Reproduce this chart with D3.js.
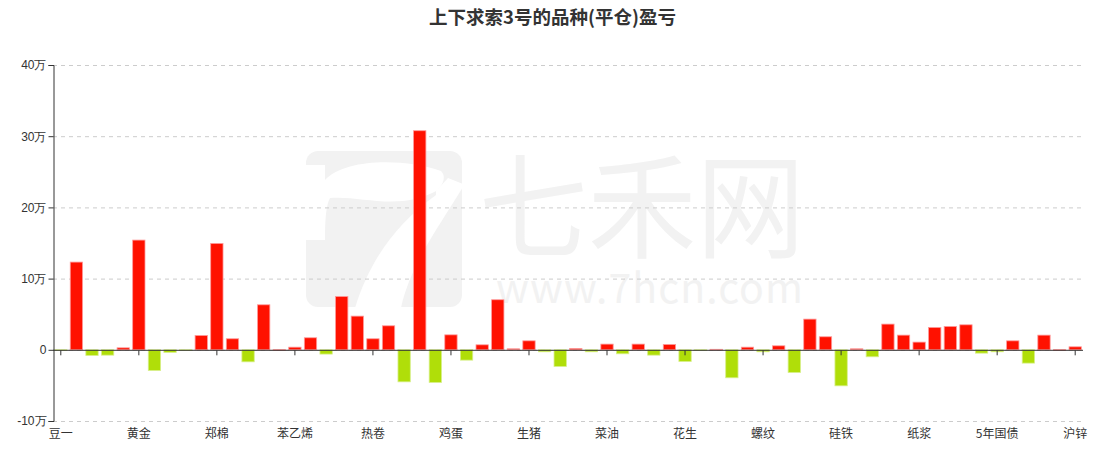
<!DOCTYPE html>
<html><head><meta charset="utf-8">
<script src="https://cdn.jsdelivr.net/npm/d3@7"></script>
<style>body{margin:0;background:#fff}svg{display:block;font-family:"Noto Sans CJK SC","Noto Sans",sans-serif}</style>
</head><body><svg id="c" width="1103" height="452"></svg>
<script>
const title = "上下求索3号的品种(平仓)盈亏";
const categories = ["豆一","沪铜","豆粕","玉米","白银","黄金","棕榈油","郑糖","苹果","PTA",
"郑棉","甲醇","沥青","焦炭","铁矿石","苯乙烯","乙二醇","聚丙烯","塑料","焦煤",
"热卷","沪镍","原油","玻璃","纯碱","鸡蛋","红枣","豆油","菜粕","尿素",
"生猪","沪铝","沪锡","橡胶","燃油","菜油","短纤","豆二","PVC","不锈钢",
"花生","液化气","沪铅","锰硅","低硫燃油","螺纹","10年国债","沪金","纤维板","棉纱",
"硅铁","粳米","强麦","玉米淀粉","动力煤","纸浆","沪银","线材","2年国债","菜籽",
"5年国债","苯酚","工业硅","碳酸锂","20号胶","沪锌"];
// 盈亏 (元)
const values = [-1000,123200,-8000,-7500,2800,154100,-29000,-3700,-1000,20100,
149400,15500,-16900,63200,200,3700,16900,-6000,74900,47300,
15500,33700,-45000,307700,-45900,21000,-14500,7000,70300,1400,
12600,-2800,-23400,1900,-2800,8000,-5600,8000,-7500,7500,
-16400,-500,700,-39300,3700,-2800,5600,-31900,43100,18300,
-50600,1400,-9800,36100,20600,10800,31400,32800,35100,-4700,
-2800,12600,-18700,20600,200,4200];
const yTicks = [-100000,0,100000,200000,300000,400000];
const yTickLabels = ["-10万","0","10万","20万","30万","40万"];
const watermarkName = "七禾网";
const watermarkUrl = "www.7hcn.com";

const svg = d3.select("#c");
const m = {l:53, r:20, t:65, b:31};
const W = 1103, H = 452;
const x = d3.scaleBand().domain(d3.range(categories.length)).range([m.l, W-m.r]).paddingInner(0.21).paddingOuter(0.105);
const y = d3.scaleLinear().domain([-100000,400000]).range([H-m.b, m.t]);

// watermark
const wm = svg.append("g");
wm.append("rect").attr("x",306).attr("y",151).attr("width",156).attr("height",156).attr("rx",12).attr("fill","#f2f2f2");
wm.append("path").attr("fill","#fff")
 .attr("d","M305,165 L325,165 L325,180 C345,158 405,158 441,171 C446,176 444,183 438,190 C400,212 360,195 330,198 C326,205 325,220 325,240 L305,240 Z");
wm.append("path").attr("fill","#fff")
 .attr("d","M436,191 L448,178 L463,184 L463,187 C440,225 410,265 401,308 L355,308 C370,260 395,225 436,195 Z");
wm.append("text").attr("x",479).attr("y",249).attr("font-size",114).attr("fill","#f2f2f2").attr("textLength",326).attr("lengthAdjust","spacingAndGlyphs").text(watermarkName);
wm.append("text").attr("x",496).attr("y",303).attr("font-size",41).attr("fill","#f2f2f2").attr("textLength",307).text(watermarkUrl);

// grid
svg.append("g").selectAll("line").data(yTicks).join("line")
 .attr("x1",m.l).attr("x2",W-m.r).attr("y1",d=>y(d)+0.5).attr("y2",d=>y(d)+0.5)
 .attr("stroke","#ccc").attr("stroke-dasharray","4,4");

// bars
svg.append("g").selectAll("rect").data(values).join("rect")
 .attr("x",(d,i)=>x(i)).attr("width",x.bandwidth())
 .attr("y",d=>Math.min(y(d),y(0))).attr("height",d=>Math.max(0.8,Math.abs(y(d)-y(0))))
 .attr("fill",d=>d>=0?"#ff1100":"#b0de09")
 .attr("stroke",d=>d>=0?"#ff9a9a":"#d8ef8a").attr("stroke-width",0.8);

// y axis
const ya = svg.append("g").attr("transform",`translate(${m.l+0.5},0)`)
 .call(d3.axisLeft(y).tickValues(yTicks).tickSize(5).tickFormat((d,i)=>yTickLabels[i]));
ya.select(".domain").attr("stroke","#333");
ya.selectAll(".tick line").attr("stroke","#333");
ya.selectAll("text").attr("fill","#333").attr("font-size",12).attr("x",-7);

// x axis line at zero
const xa = svg.append("g").attr("transform",`translate(0,${y(0)+0.5})`)
 .call(d3.axisBottom(x).tickValues(d3.range(0,categories.length,5)).tickSize(5).tickFormat(""));
xa.select(".domain").attr("stroke","#333").attr("d",`M${m.l},0H${W-m.r}`);
xa.selectAll(".tick line").attr("stroke","#333");

// x labels at bottom
svg.append("g").selectAll("text").data(d3.range(0,categories.length,5)).join("text")
 .attr("x",i=>x(i)+x.bandwidth()/2).attr("y",H-m.b+17)
 .attr("text-anchor","middle").attr("font-size",12).attr("fill","#333").text(i=>categories[i]);

svg.append("text").attr("x",552.5).attr("y",24).attr("text-anchor","middle")
 .attr("font-size",18.5).attr("font-weight","bold").attr("fill","#333").text(title);
</script></body></html>
